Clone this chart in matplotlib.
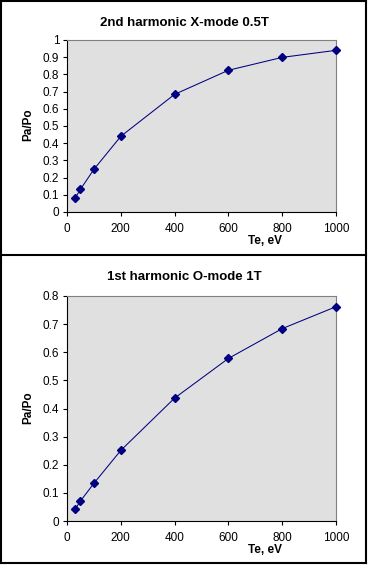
import matplotlib
matplotlib.use("Agg")
import matplotlib.pyplot as plt
from matplotlib.lines import Line2D

plt.rcParams['font.family'] = ['Liberation Sans', 'DejaVu Sans']

te = [30, 50, 100, 200, 400, 600, 800, 1000]
ratio_x2 = [0.08, 0.132, 0.248, 0.44, 0.684, 0.824, 0.899, 0.94]
ratio_o1 = [0.0415, 0.071, 0.134, 0.251, 0.437, 0.578, 0.684, 0.762]

title1 = "2nd harmonic X-mode 0.5T"
title2 = "1st harmonic O-mode 1T"
xlabel = "Te, eV"
ylabel = "Pa/Po"
xticks = [0, 200, 400, 600, 800, 1000]
yticks1 = [0, 0.1, 0.2, 0.3, 0.4, 0.5, 0.6, 0.7, 0.8, 0.9, 1]
yticks2 = [0, 0.1, 0.2, 0.3, 0.4, 0.5, 0.6, 0.7, 0.8]

W, H = 368, 565
fig = plt.figure(figsize=(W / 100, H / 100), dpi=100)

def fx(px):
    return px / W

def fy(py):
    return 1 - py / H

navy = '#000080'

def make(ax_box, y, yticks, ymax, title, ty, xl_top, yl_y):
    l, t, r, b = ax_box
    ax = fig.add_axes([fx(l), fy(b), fx(r) - fx(l), fy(t) - fy(b)])
    ax.set_facecolor('#e0e0e0')
    ax.plot(te, y, color=navy, lw=0.75, marker='D', markersize=4.5,
            markerfacecolor=navy, markeredgecolor=navy, clip_on=False, zorder=3)
    ax.set_xlim(0, 1000)
    ax.set_ylim(0, ymax)
    ax.set_xticks(xticks)
    ax.set_xticklabels([str(v) for v in xticks])
    ax.set_yticks(yticks)
    ax.set_yticklabels([('%g' % v) for v in yticks])
    ax.tick_params(axis='both', direction='out', length=3, width=0.8,
                   labelsize=8.5, colors='black', pad=2.5)
    ax.tick_params(axis='x', pad=5)
    for s in ['top', 'right']:
        ax.spines[s].set_color('#808080')
        ax.spines[s].set_linewidth(0.8)
    for s in ['left', 'bottom']:
        ax.spines[s].set_color('black')
        ax.spines[s].set_linewidth(0.8)
    fig.text(0.5, fy(ty), title, ha='center', va='center',
             fontsize=9.5, fontweight='bold')
    fig.text(fx(265), fy(xl_top), xlabel, ha='center', va='top',
             fontsize=8.5, fontweight='bold')
    fig.text(fx(28), fy(yl_y), ylabel, ha='center', va='center',
             rotation=90, fontsize=8.5, fontweight='bold')
    return ax

make((67, 40, 336, 212), ratio_x2, yticks1, 1.0, title1, 23, 235, 125)
make((67, 296, 336, 521), ratio_o1, yticks2, 0.8, title2, 277, 544, 408)

# frame lines
lw = 1.5
for (x0, y0, x1, y1) in [(1, 1, 366, 1), (1, 563, 366, 563), (1, 1, 1, 563),
                         (366, 1, 366, 563), (1, 255, 366, 255)]:
    fig.add_artist(Line2D([fx(x0), fx(x1)], [fy(y0), fy(y1)],
                          color='black', lw=lw, transform=fig.transFigure))

fig.savefig('out.png', dpi=100)
